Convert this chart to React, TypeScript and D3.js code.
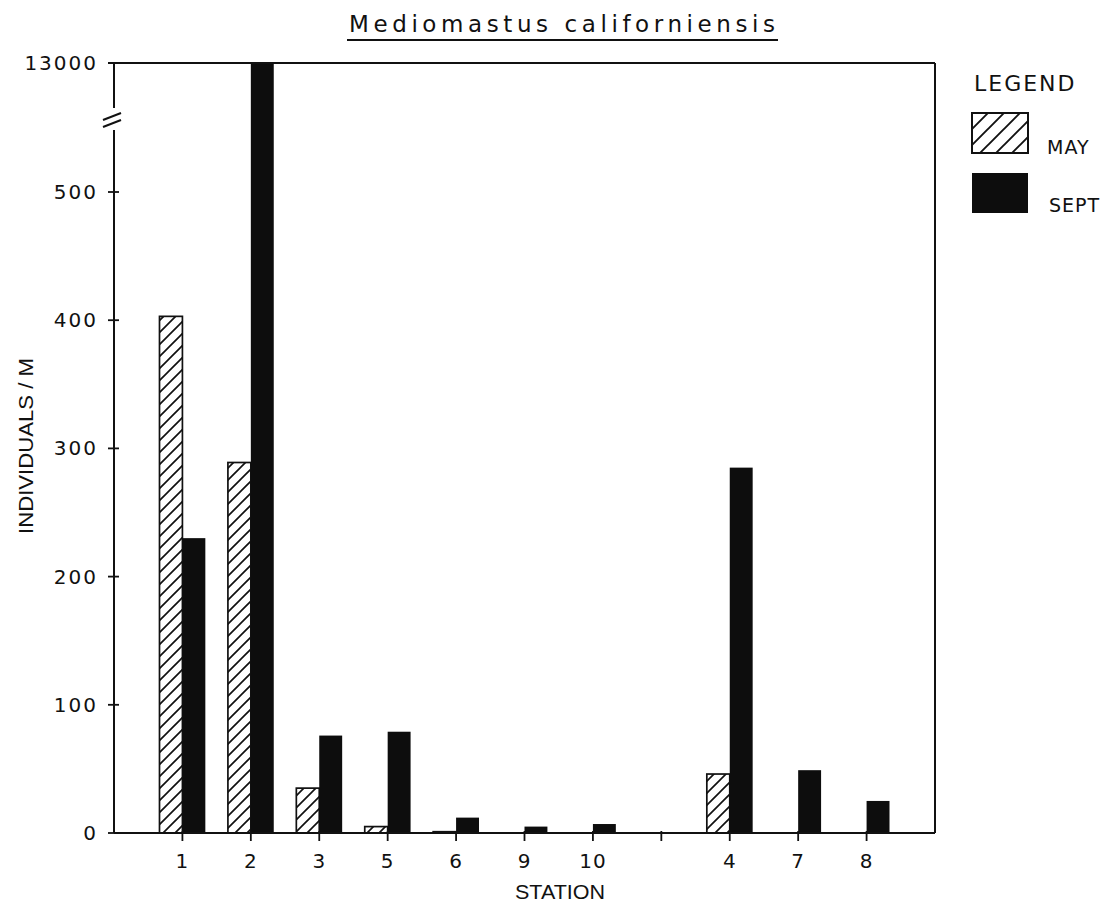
import React from "react";
import * as d3 from "d3";

// Stations in plotting order; "" marks the empty slot between the two groups
const stations = ["1", "2", "3", "5", "6", "9", "10", "", "4", "7", "8"];
const mayValues = [403, 289, 35, 5, 1, 0, 0, null, 46, 0, 0];
const septValues = [230, 13000, 76, 79, 12, 5, 7, null, 285, 49, 25];
const yTicks = [0, 100, 200, 300, 400, 500, 13000];
const seriesNames = ["MAY", "SEPT"];

const W = 1120;
const H = 912;
const left = 114;
const right = 935;
const top = 63;
const bottom = 833;

export default function App() {
  // Slots 1..11 carry ticks; slot 12 is the right-hand frame edge
  const x = d3.scaleLinear().domain([0, 12]).range([left, right]);
  const step = x(1) - x(0);
  const barW = step * 0.335;
  // Broken axis: 0–500 linear, then a compressed segment up to 13000
  const y = d3.scaleLinear().domain([0, 500, 13000]).range([bottom, 192, top]);

  const numFont = "'DejaVu Sans', sans-serif";
  const narrowFont = "'Liberation Sans Narrow', 'Liberation Sans', sans-serif";
  const breakTop = 108;
  const breakBottom = 130;

  return (
    <svg width={W} height={H} style={{ display: "block", margin: "-8px", background: "#fff" }}>
      <defs>
        <pattern id="hatch" patternUnits="userSpaceOnUse" width="12" height="12">
          <path d="M-3,3 L3,-3 M0,12 L12,0 M9,15 L15,9" stroke="#111" strokeWidth="1.7" />
        </pattern>
        <pattern id="hatchLegend" patternUnits="userSpaceOnUse" width="16" height="16" x="972" y="113">
          <path d="M-4,4 L4,-4 M0,16 L16,0 M12,20 L20,12" stroke="#111" strokeWidth="1.9" />
        </pattern>
      </defs>

      {/* Title */}
      <text
        x={562}
        y={32}
        textAnchor="middle"
        fontFamily={numFont}
        fontSize={23}
        textLength={426}
        lengthAdjust="spacing"
        fill="#111"
      >
        Mediomastus californiensis
      </text>
      <line x1={347} x2={778} y1={40} y2={40} stroke="#111" strokeWidth={1.8} />

      {/* Bars */}
      {stations.map((s, i) => {
        const cx = x(i + 1);
        const m = mayValues[i];
        const sp = septValues[i];
        return (
          <g key={"bar" + i}>
            {m != null && m > 0 && (
              <rect
                x={cx - barW}
                y={y(m)}
                width={barW}
                height={bottom - y(m)}
                fill="url(#hatch)"
                stroke="#111"
                strokeWidth={1.7}
              />
            )}
            {sp != null && sp > 0 && (
              <rect x={cx} y={y(sp)} width={barW} height={bottom - y(sp)} fill="#0d0d0d" />
            )}
          </g>
        );
      })}

      {/* Frame: top and right edges, bottom axis */}
      <line x1={left - 6} x2={right} y1={top} y2={top} stroke="#111" strokeWidth={2} />
      <line x1={right} x2={right} y1={top} y2={bottom} stroke="#111" strokeWidth={2} />
      <line x1={left} x2={right} y1={bottom} y2={bottom} stroke="#111" strokeWidth={2} />

      {/* Y axis with break */}
      <line x1={left} x2={left} y1={top} y2={breakTop} stroke="#111" strokeWidth={2} />
      <line x1={left} x2={left} y1={breakBottom} y2={bottom} stroke="#111" strokeWidth={2} />
      <line x1={left - 11} x2={left + 7} y1={breakTop + 12} y2={breakTop + 5} stroke="#111" strokeWidth={2} />
      <line x1={left - 11} x2={left + 7} y1={breakTop + 19} y2={breakTop + 12} stroke="#111" strokeWidth={2} />

      {yTicks.map((t) => (
        <g key={"yt" + t}>
          {t !== 13000 && (
            <line x1={left - 6} x2={left + 5} y1={y(t)} y2={y(t)} stroke="#111" strokeWidth={1.8} />
          )}
          <text
            x={left - 16}
            y={y(t) + 7}
            textAnchor="end"
            fontFamily={numFont}
            fontSize={20}
            letterSpacing={2}
            fill="#111"
          >
            {t}
          </text>
        </g>
      ))}

      {/* X ticks and station labels */}
      {stations.map((s, i) => (
        <g key={"xt" + i}>
          <line x1={x(i + 1)} x2={x(i + 1)} y1={bottom - 2} y2={bottom + 8} stroke="#111" strokeWidth={1.8} />
          <text
            x={x(i + 1)}
            y={bottom + 35}
            textAnchor="middle"
            fontFamily={numFont}
            fontSize={20}
            letterSpacing={1}
            fill="#111"
          >
            {s}
          </text>
        </g>
      ))}

      {/* Axis titles */}
      <text
        x={560}
        y={bottom + 66}
        textAnchor="middle"
        fontFamily={narrowFont}
        fontSize={21}
        textLength={90}
        lengthAdjust="spacingAndGlyphs"
        fill="#111"
      >
        STATION
      </text>
      <text
        transform={`translate(33, ${446}) rotate(-90)`}
        textAnchor="middle"
        fontFamily={narrowFont}
        fontSize={21}
        textLength={176}
        lengthAdjust="spacingAndGlyphs"
        fill="#111"
      >
        INDIVIDUALS / M
      </text>

      {/* Legend */}
      <text x={974} y={91} fontFamily={numFont} fontSize={22} letterSpacing={2} fill="#111">
        LEGEND
      </text>
      <rect x={972} y={113} width={56} height={40} fill="url(#hatchLegend)" stroke="#111" strokeWidth={2} />
      <rect x={972} y={173} width={56} height={40} fill="#0d0d0d" />
      <text x={1047} y={154} fontFamily={numFont} fontSize={19} letterSpacing={1} fill="#111">
        {seriesNames[0]}
      </text>
      <text x={1049} y={212} fontFamily={numFont} fontSize={19} letterSpacing={1} fill="#111">
        {seriesNames[1]}
      </text>
    </svg>
  );
}
